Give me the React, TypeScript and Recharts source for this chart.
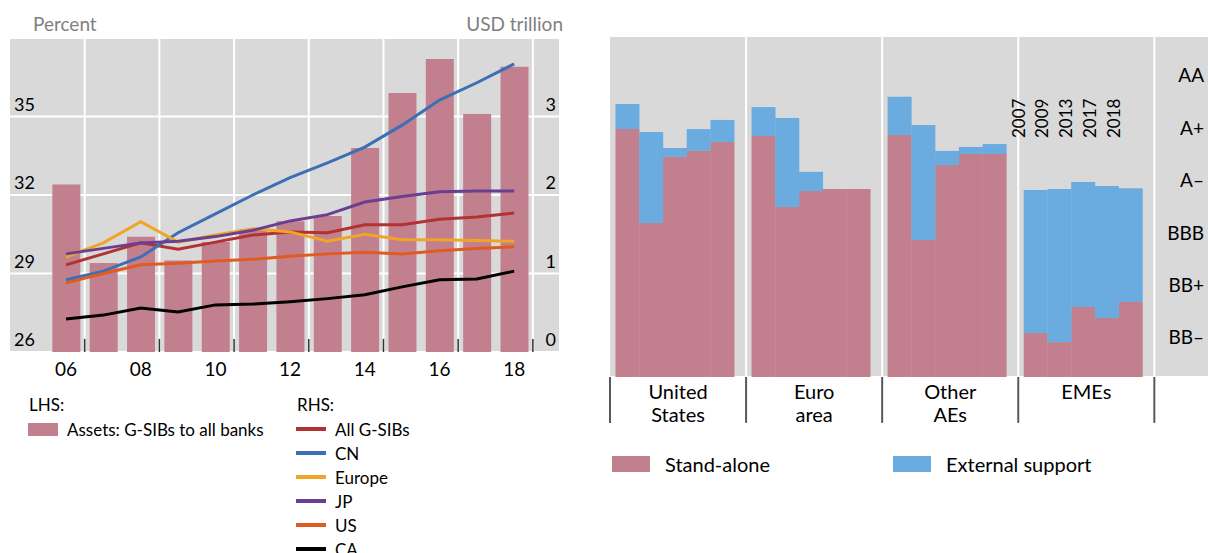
import {
  Bar,
  CartesianGrid,
  ComposedChart,
  LabelList,
  Line,
  ReferenceLine,
  XAxis,
  YAxis,
} from "recharts";

const FONT = 'Lato, "Open Sans", sans-serif';
const PINK = "#c27f8e";
const BLUE = "#6aabe0";
const GRID_BG = "#d9d9d9";

// ---- left panel: G-SIB asset share (LHS) and assets by region (RHS)
const YEARS = [2006, 2007, 2008, 2009, 2010, 2011, 2012, 2013, 2014, 2015, 2016, 2017, 2018];
const ASSETS_SHARE = [32.4, 29.4, 30.4, 29.5, 30.2, 30.7, 31.0, 31.2, 33.8, 35.9, 37.2, 35.1, 36.9];
const ALL_GSIBS = [1.11, 1.25, 1.39, 1.31, 1.4, 1.49, 1.53, 1.52, 1.62, 1.62, 1.69, 1.72, 1.77];
const CN = [0.92, 1.03, 1.21, 1.52, 1.76, 2.0, 2.22, 2.41, 2.61, 2.89, 3.21, 3.43, 3.67];
const EUROPE = [1.21, 1.39, 1.66, 1.4, 1.49, 1.57, 1.53, 1.41, 1.5, 1.43, 1.43, 1.42, 1.41];
const JP = [1.25, 1.32, 1.39, 1.41, 1.47, 1.55, 1.67, 1.75, 1.91, 1.98, 2.04, 2.05, 2.05];
const US = [0.88, 1.0, 1.11, 1.13, 1.16, 1.18, 1.22, 1.25, 1.27, 1.25, 1.29, 1.32, 1.34];
const CA = [0.42, 0.47, 0.56, 0.51, 0.6, 0.61, 0.64, 0.68, 0.73, 0.83, 0.92, 0.93, 1.03];
const YEAR_TICKS = [2006, 2008, 2010, 2012, 2014, 2016, 2018];
const LHS_TICKS = [26, 29, 32, 35, 38];
const RHS_TICKS = [0, 1, 2, 3, 4];

const SERIES = [
  { key: "all", name: "All G-SIBs", color: "#b23232", values: ALL_GSIBS },
  { key: "cn", name: "CN", color: "#3c6fb6", values: CN },
  { key: "eu", name: "Europe", color: "#f0a526", values: EUROPE },
  { key: "jp", name: "JP", color: "#6a3f90", values: JP },
  { key: "us", name: "US", color: "#e05b20", values: US },
  { key: "ca", name: "CA", color: "#000000", values: CA },
];

const assetRows = YEARS.map((year, i) => {
  const row: Record<string, number> = { year, share: ASSETS_SHARE[i] };
  SERIES.forEach((s) => (row[s.key] = s.values[i]));
  return row;
});

// grid lines sit between odd and even years
const YEAR_BOUNDS = [2006.5, 2008.5, 2010.5, 2012.5, 2014.5, 2016.5, 2018.5];

// ---- right panel: credit ratings, stand-alone vs uplift from support
const GROUPS = ["United States", "Euro area", "Other AEs", "EMEs"];
const RATING_YEARS = ["2007", "2009", "2013", "2017", "2018"];
const US_STANDALONE = [9.45, 5.87, 8.39, 8.62, 8.96];
const EA_STANDALONE = [9.19, 6.48, 7.09, 7.17, 7.17];
const AE_STANDALONE = [9.23, 5.22, 8.08, 8.5, 8.5];
const EME_STANDALONE = [1.68, 1.33, 2.67, 2.25, 2.86];
const US_SUPPORT = [0.96, 3.47, 0.34, 0.83, 0.84];
const EA_SUPPORT = [1.1, 3.39, 0.73, 0, 0];
const AE_SUPPORT = [1.45, 4.39, 0.54, 0.27, 0.38];
const EME_SUPPORT = [5.45, 5.84, 4.76, 5.03, 4.34];
const RATING_LABELS = ["BB–", "BB+", "BBB", "A–", "A+", "AA"];
const RATING_LABEL_POS = [1.5, 3.5, 5.5, 7.5, 9.5, 11.5];
const NOTCHES = [0, 1, 2, 3, 4, 5, 6, 7, 8, 9, 10, 11, 12, 13];

const STANDALONE = [US_STANDALONE, EA_STANDALONE, AE_STANDALONE, EME_STANDALONE];
const SUPPORT = [US_SUPPORT, EA_SUPPORT, AE_SUPPORT, EME_SUPPORT];
const GROUP_SPAN = 5.73;
const GROUP_LEAD = 0.73;

const ratingRows = GROUPS.flatMap((group, g) =>
  RATING_YEARS.map((yr, i) => ({
    pos: g * GROUP_SPAN + i,
    group,
    yr,
    standAlone: STANDALONE[g][i],
    support: SUPPORT[g][i],
  }))
);
const GROUP_EDGES = [0, 1, 2, 3, 4].map((g) => g * GROUP_SPAN - GROUP_LEAD);
const GROUP_MIDS = GROUPS.map((_, g) => g * GROUP_SPAN - GROUP_LEAD + GROUP_SPAN / 2);

function LeftTick(props: any) {
  const { x, y, payload } = props;
  if (payload.value === 38) return null;
  return (
    <text x={x} y={y - 6} textAnchor="start" fontSize={18} fill="#000" fontFamily={FONT}>
      {payload.value}
    </text>
  );
}

function RightTick(props: any) {
  const { x, y, payload } = props;
  if (payload.value === 4) return null;
  return (
    <text x={x} y={y - 6} textAnchor="end" fontSize={18} fill="#000" fontFamily={FONT}>
      {payload.value}
    </text>
  );
}

function RatingTick(props: any) {
  const { x, y, index } = props;
  return (
    <text x={x} y={y} dy="0.36em" textAnchor="end" fontSize={19} fill="#000" fontFamily={FONT}>
      {RATING_LABELS[index]}
    </text>
  );
}

function GroupTick(props: any) {
  const { x, y, index } = props;
  const words = GROUPS[index].split(" ");
  return (
    <text x={x} y={y} textAnchor="middle" fontSize={20} fill="#000" fontFamily={FONT}>
      {words.map((w, i) => (
        <tspan key={w} x={x} dy={i === 0 ? 22 : 23}>
          {w}
        </tspan>
      ))}
    </text>
  );
}

// year captions above the EME bars (stand-alone bars are never zero, so index lines up)
function YearLabel(props: any) {
  const { x, width, index } = props;
  const row = ratingRows[index];
  if (!row || row.group !== "EMEs") return null;
  const px = x + width / 2 - 11;
  return (
    <text
      x={px}
      y={138}
      transform={`rotate(-90 ${px} 138)`}
      textAnchor="start"
      fontSize={17}
      fill="#000"
      fontFamily={FONT}
    >
      {row.yr}
    </text>
  );
}

function AssetsChart() {
  return (
    <div style={{ position: "absolute", left: 0, top: 0 }}>
      <ComposedChart
        width={570}
        height={400}
        data={assetRows}
        margin={{ top: 38, right: 11, bottom: 18, left: 10 }}
      >
        <CartesianGrid xAxisId="yr" yAxisId="l" vertical={false} fill={GRID_BG} stroke="#fff" strokeWidth={2} />
        <XAxis
          xAxisId="yr"
          dataKey="year"
          type="number"
          domain={[2004.5, 2019.2]}
          allowDataOverflow
          ticks={YEAR_TICKS}
          interval={0}
          tickFormatter={(v) => String(v).slice(2)}
          axisLine={false}
          tickLine={false}
          tickSize={6}
          tickMargin={5}
          height={30}
          tick={{ fill: "#000", fontSize: 19, fontFamily: FONT }}
        />
        <YAxis
          yAxisId="l"
          domain={[26, 38]}
          allowDataOverflow
          ticks={LHS_TICKS}
          interval={0}
          mirror
          axisLine={false}
          tickLine={false}
          tickSize={0}
          tickMargin={4}
          tick={<LeftTick />}
        />
        <YAxis
          yAxisId="r"
          orientation="right"
          domain={[0, 4]}
          allowDataOverflow
          ticks={RHS_TICKS}
          interval={0}
          mirror
          axisLine={false}
          tickLine={false}
          tickSize={0}
          tickMargin={3}
          tick={<RightTick />}
        />
        {YEAR_BOUNDS.map((b) => (
          <ReferenceLine key={`g${b}`} xAxisId="yr" yAxisId="l" x={b} stroke="#fff" strokeWidth={2} />
        ))}
        <Bar xAxisId="yr" yAxisId="l" dataKey="share" fill={PINK} barSize={28} isAnimationActive={false} />
        {YEAR_BOUNDS.map((b) => (
          <ReferenceLine
            key={`t${b}`}
            xAxisId="yr"
            yAxisId="l"
            segment={[
              { x: b, y: 26 },
              { x: b, y: 26.5 },
            ]}
            stroke="#333"
            strokeWidth={1.5}
          />
        ))}
        {SERIES.map((s) => (
          <Line
            key={s.key}
            xAxisId="yr"
            yAxisId="r"
            dataKey={s.key}
            stroke={s.color}
            strokeWidth={3}
            dot={false}
            type="linear"
            isAnimationActive={false}
          />
        ))}
      </ComposedChart>
      <div style={{ position: "absolute", left: 33, top: 14, fontSize: 19, lineHeight: "19px", color: "#7f7f7f" }}>
        Percent
      </div>
      <div style={{ position: "absolute", right: 570 - 563, top: 14, fontSize: 19, lineHeight: "19px", color: "#7f7f7f" }}>
        USD trillion
      </div>
    </div>
  );
}

function AssetsLegend() {
  const row = (top: number, left: number, swatch: any, label: string) => (
    <div
      key={label}
      style={{ position: "absolute", left, top, height: 24, display: "flex", alignItems: "center", fontSize: 17 }}
    >
      <div style={{ ...swatch, marginRight: 9 }} />
      <span>{label}</span>
    </div>
  );
  return (
    <>
      <div style={{ position: "absolute", left: 29, top: 393, fontSize: 17, lineHeight: "24px" }}>LHS:</div>
      <div style={{ position: "absolute", left: 297, top: 393, fontSize: 17, lineHeight: "24px" }}>RHS:</div>
      {row(417, 28, { width: 30, height: 13, background: PINK }, "Assets: G-SIBs to all banks")}
      {SERIES.map((s, i) => row(417 + i * 24, 296, { width: 30, height: 4, background: s.color }, s.name))}
    </>
  );
}

function RatingsChart() {
  return (
    <div style={{ position: "absolute", left: 600, top: 0 }}>
      <ComposedChart
        width={610}
        height={430}
        data={ratingRows}
        margin={{ top: 36, right: 2, bottom: 3, left: 10 }}
        barCategoryGap={0}
        barGap={0}
      >
        <CartesianGrid xAxisId="pos" yAxisId="g" vertical={false} fill={GRID_BG} stroke="#fff" strokeWidth={2} />
        <XAxis
          xAxisId="pos"
          dataKey="pos"
          type="number"
          domain={[-GROUP_LEAD, 24.45]}
          allowDataOverflow
          ticks={GROUP_MIDS}
          interval={0}
          axisLine={false}
          tickLine={false}
          tickSize={0}
          tickMargin={0}
          height={50}
          tick={<GroupTick />}
        />
        <YAxis
          yAxisId="g"
          domain={[0, 13]}
          allowDataOverflow
          ticks={NOTCHES}
          interval={0}
          mirror
          axisLine={false}
          tickLine={false}
          tick={false}
        />
        <YAxis
          yAxisId="lab"
          orientation="right"
          domain={[0, 13]}
          allowDataOverflow
          ticks={RATING_LABEL_POS}
          interval={0}
          mirror
          axisLine={false}
          tickLine={false}
          tickSize={0}
          tickMargin={4}
          tick={<RatingTick />}
        />
        {GROUP_EDGES.slice(1).map((b) => (
          <ReferenceLine key={`v${b}`} xAxisId="pos" yAxisId="g" x={b} stroke="#fff" strokeWidth={2} />
        ))}
        <Bar xAxisId="pos" yAxisId="g" dataKey="standAlone" stackId="r" fill={PINK} isAnimationActive={false}>
          <LabelList dataKey="standAlone" content={<YearLabel />} />
        </Bar>
        <Bar xAxisId="pos" yAxisId="g" dataKey="support" stackId="r" fill={BLUE} isAnimationActive={false} />
        {GROUP_EDGES.map((b) => (
          <ReferenceLine
            key={`s${b}`}
            xAxisId="pos"
            yAxisId="g"
            segment={[
              { x: b, y: 0 },
              { x: b, y: -1.75 },
            ]}
            ifOverflow="visible"
            stroke="#595959"
            strokeWidth={2}
          />
        ))}
      </ComposedChart>
    </div>
  );
}

function RatingsLegend() {
  const item = (left: number, color: string, label: string) => (
    <div
      key={label}
      style={{ position: "absolute", left, top: 451, height: 26, display: "flex", alignItems: "center", fontSize: 20 }}
    >
      <div style={{ width: 38, height: 16, background: color, marginRight: 15 }} />
      <span>{label}</span>
    </div>
  );
  return (
    <>
      {item(612, PINK, "Stand-alone")}
      {item(893, BLUE, "External support")}
    </>
  );
}

export default function App() {
  return (
    <div
      style={{
        position: "absolute",
        left: 0,
        top: 0,
        width: 1210,
        height: 553,
        overflow: "hidden",
        background: "#fff",
        fontFamily: FONT,
        color: "#000",
      }}
    >
      <AssetsChart />
      <AssetsLegend />
      <RatingsChart />
      <RatingsLegend />
    </div>
  );
}
